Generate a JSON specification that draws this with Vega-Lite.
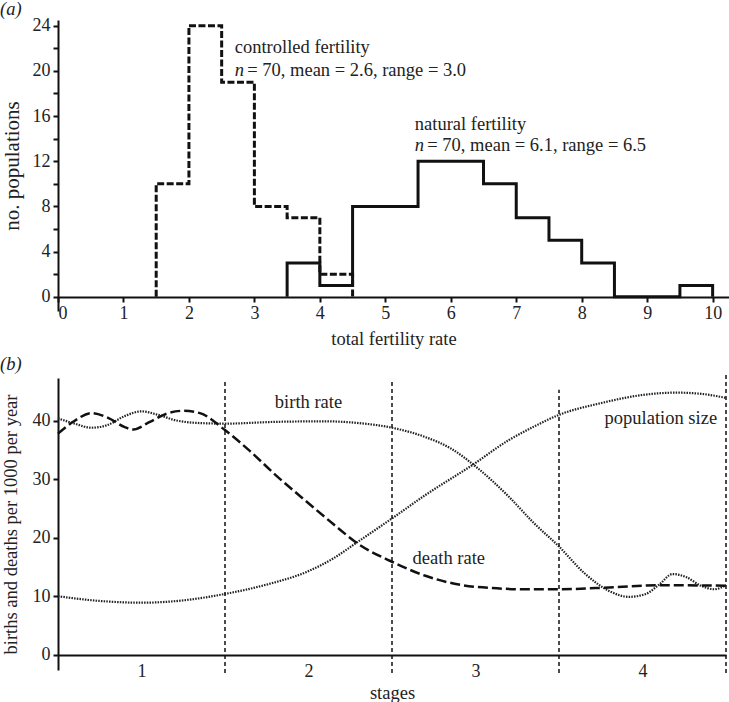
{
  "$schema": "https://vega.github.io/schema/vega-lite/v6.json",
  "background": "white",
  "padding": {"left": 0, "top": 0, "right": 0, "bottom": 0},
  "bounds": "flush",
  "spacing": 67,
  "datasets": {
    "controlled": [
      {"i": 0, "x": 1.5, "n": 0},
      {"i": 1, "x": 1.5, "n": 10},
      {"i": 2, "x": 2.0, "n": 24},
      {"i": 3, "x": 2.5, "n": 19},
      {"i": 4, "x": 3.0, "n": 8},
      {"i": 5, "x": 3.5, "n": 7},
      {"i": 6, "x": 4.0, "n": 2},
      {"i": 7, "x": 4.5, "n": 0}
    ],
    "natural": [
      {"i": 0, "x": 3.5, "n": 0},
      {"i": 1, "x": 3.5, "n": 3},
      {"i": 2, "x": 4.0, "n": 1},
      {"i": 3, "x": 4.5, "n": 8},
      {"i": 4, "x": 5.0, "n": 8},
      {"i": 5, "x": 5.5, "n": 12},
      {"i": 6, "x": 6.0, "n": 12},
      {"i": 7, "x": 6.5, "n": 10},
      {"i": 8, "x": 7.0, "n": 7},
      {"i": 9, "x": 7.5, "n": 5},
      {"i": 10, "x": 8.0, "n": 3},
      {"i": 11, "x": 8.5, "n": 0},
      {"i": 12, "x": 9.0, "n": 0},
      {"i": 13, "x": 9.5, "n": 0},
      {"i": 14, "x": 9.5, "n": 1},
      {"i": 15, "x": 10.0, "n": 0}
    ],
    "annHead": [
      {"x": 2.7, "n": 22.1, "t": "controlled fertility"},
      {"x": 5.45, "n": 15.3, "t": "natural fertility"}
    ],
    "annStats": [
      {"x": 2.7, "n": 20.05, "t": "= 70, mean = 2.6, range = 3.0"},
      {"x": 5.45, "n": 13.4, "t": "= 70, mean = 6.1, range = 6.5"}
    ],
    "stageLines": [
      {"stage": 1, "v": -3.1, "v2": 46.7},
      {"stage": 2, "v": -3.1, "v2": 46.7},
      {"stage": 3, "v": -3.1, "v2": 45.3},
      {"stage": 4, "v": -3.1, "v2": 48.2}
    ],
    "birth": [
      {"stage": 0.0, "v": 40.4}, {"stage": 0.1, "v": 39.5}, {"stage": 0.2, "v": 38.8},
      {"stage": 0.3, "v": 39.3}, {"stage": 0.4, "v": 40.8}, {"stage": 0.5, "v": 41.6},
      {"stage": 0.6, "v": 41.0}, {"stage": 0.7, "v": 40.1}, {"stage": 0.85, "v": 39.6},
      {"stage": 1.0, "v": 39.5}, {"stage": 1.3, "v": 39.8}, {"stage": 1.6, "v": 39.9},
      {"stage": 1.8, "v": 39.6}, {"stage": 2.0, "v": 38.8}, {"stage": 2.2, "v": 37.2},
      {"stage": 2.35, "v": 35.3}, {"stage": 2.5, "v": 32.2}, {"stage": 2.7, "v": 27.0},
      {"stage": 2.85, "v": 22.5}, {"stage": 3.0, "v": 18.5}, {"stage": 3.15, "v": 14.0},
      {"stage": 3.3, "v": 10.9}, {"stage": 3.42, "v": 9.9}, {"stage": 3.52, "v": 10.4},
      {"stage": 3.6, "v": 12.0}, {"stage": 3.68, "v": 13.8}, {"stage": 3.76, "v": 13.3},
      {"stage": 3.85, "v": 11.8}, {"stage": 3.93, "v": 11.2}, {"stage": 4.0, "v": 11.9}
    ],
    "death": [
      {"stage": 0.0, "v": 37.8}, {"stage": 0.1, "v": 40.0}, {"stage": 0.2, "v": 41.3},
      {"stage": 0.3, "v": 40.5}, {"stage": 0.4, "v": 38.9}, {"stage": 0.45, "v": 38.5},
      {"stage": 0.55, "v": 39.8}, {"stage": 0.65, "v": 41.2}, {"stage": 0.75, "v": 41.7},
      {"stage": 0.85, "v": 41.3}, {"stage": 1.0, "v": 38.4}, {"stage": 1.15, "v": 34.8},
      {"stage": 1.3, "v": 30.8}, {"stage": 1.5, "v": 25.9}, {"stage": 1.65, "v": 22.3},
      {"stage": 1.8, "v": 18.9}, {"stage": 2.0, "v": 15.9}, {"stage": 2.2, "v": 13.5},
      {"stage": 2.4, "v": 12.0}, {"stage": 2.6, "v": 11.4}, {"stage": 2.8, "v": 11.2},
      {"stage": 3.0, "v": 11.2}, {"stage": 3.3, "v": 11.5}, {"stage": 3.6, "v": 11.9},
      {"stage": 4.0, "v": 11.8}
    ],
    "pop": [
      {"stage": 0.0, "v": 10.0}, {"stage": 0.25, "v": 9.2}, {"stage": 0.5, "v": 8.9},
      {"stage": 0.75, "v": 9.3}, {"stage": 1.0, "v": 10.4}, {"stage": 1.25, "v": 12.0},
      {"stage": 1.5, "v": 14.3}, {"stage": 1.65, "v": 16.5}, {"stage": 1.8, "v": 19.4},
      {"stage": 2.0, "v": 23.3}, {"stage": 2.2, "v": 27.3}, {"stage": 2.48, "v": 32.4},
      {"stage": 2.7, "v": 36.7}, {"stage": 2.85, "v": 39.0}, {"stage": 3.0, "v": 41.0},
      {"stage": 3.25, "v": 43.0}, {"stage": 3.5, "v": 44.4}, {"stage": 3.7, "v": 44.8},
      {"stage": 3.85, "v": 44.6}, {"stage": 4.0, "v": 43.9}
    ],
    "curveLabels": [
      {"stage": 1.5, "v": 43.2, "t": "birth rate"},
      {"stage": 3.61, "v": 40.5, "t": "population size"},
      {"stage": 2.34, "v": 16.6, "t": "death rate"}
    ]
  },
  "vconcat": [
    {
      "width": 671,
      "height": 291,
      "title": {"text": "(a)", "anchor": "start", "frame": "group", "dx": -58, "offset": -2, "fontStyle": "italic", "fontWeight": "normal", "fontSize": 18.5, "font": "Liberation Serif, Times New Roman, DejaVu Serif, serif", "color": "#222"},
      "encoding": {
        "x": {"field": "x", "type": "quantitative", "scale": {"domain": [0, 10.25], "nice": false, "zero": false},
          "axis": {"values": [0, 1, 2, 3, 4, 5, 6, 7, 8, 9, 10], "format": "d", "offset": -14, "tickSize": 5, "labelPadding": 2, "labelFlush": true, "title": "total fertility rate", "titlePadding": 7}},
        "y": {"field": "n", "type": "quantitative", "scale": {"domain": [-1.25, 24.5], "nice": false, "zero": false},
          "axis": {"values": [0, 2, 4, 6, 8, 10, 12, 14, 16, 18, 20, 22, 24], "labelExpr": "datum.value % 4 === 0 ? datum.label : ''", "tickSize": 5, "labelPadding": 3, "title": "no. populations", "titleFontSize": 21, "titlePadding": 10}}
      },
      "layer": [
        {"data": {"name": "controlled"}, "mark": {"type": "line", "interpolate": "step-after", "color": "#111", "strokeWidth": 3, "strokeDash": [7, 2.5]},
          "encoding": {"order": {"field": "i", "type": "quantitative"}}},
        {"data": {"name": "natural"}, "mark": {"type": "line", "interpolate": "step-after", "color": "#111", "strokeWidth": 3},
          "encoding": {"order": {"field": "i", "type": "quantitative"}}},
        {"data": {"name": "annHead"}, "mark": {"type": "text", "align": "left", "baseline": "middle"},
          "encoding": {"text": {"field": "t"}}},
        {"data": {"name": "annStats"}, "mark": {"type": "text", "align": "left", "baseline": "middle", "text": "n", "fontStyle": "italic"},
          "encoding": {}},
        {"data": {"name": "annStats"}, "mark": {"type": "text", "align": "left", "baseline": "middle", "dx": 12.5},
          "encoding": {"text": {"field": "t"}}}
      ]
    },
    {
      "width": 668,
      "height": 292,
      "title": {"text": "(b)", "anchor": "start", "frame": "group", "dx": -58, "offset": -2, "fontStyle": "italic", "fontWeight": "normal", "fontSize": 18.5, "font": "Liberation Serif, Times New Roman, DejaVu Serif, serif", "color": "#222"},
      "encoding": {
        "x": {"field": "stage", "type": "quantitative", "scale": {"domain": [0, 4], "nice": false, "zero": false},
          "axis": {"values": [0.5, 1.5, 2.5, 3.5], "labelExpr": "datum.value + 0.5", "ticks": false, "offset": -15, "labelPadding": 7, "title": "stages", "titlePadding": 3}},
        "y": {"field": "v", "type": "quantitative", "scale": {"domain": [-2.6, 47.3], "nice": false, "zero": false},
          "axis": {"values": [0, 10, 20, 30, 40], "tickSize": 5, "labelPadding": 3, "title": "births and deaths per 1000 per year", "titlePadding": 12}}
      },
      "layer": [
        {"data": {"name": "stageLines"}, "mark": {"type": "rule", "color": "#111", "strokeWidth": 1.5, "strokeDash": [4, 3]},
          "encoding": {"y2": {"field": "v2"}}},
        {"data": {"name": "birth"}, "mark": {"type": "line", "interpolate": "monotone", "color": "#222", "strokeWidth": 2.2, "strokeDash": [1.5, 1.2]},
          "encoding": {}},
        {"data": {"name": "pop"}, "mark": {"type": "line", "interpolate": "monotone", "color": "#222", "strokeWidth": 2.2, "strokeDash": [1.5, 1.2]},
          "encoding": {}},
        {"data": {"name": "death"}, "mark": {"type": "line", "interpolate": "monotone", "color": "#111", "strokeWidth": 2.5, "strokeDash": [10, 4]},
          "encoding": {}},
        {"data": {"name": "curveLabels"}, "mark": {"type": "text", "align": "center", "baseline": "middle"},
          "encoding": {"text": {"field": "t"}}}
      ]
    }
  ],
  "config": {
    "view": {"stroke": null},
    "axis": {"grid": false, "domainColor": "#111", "tickColor": "#111", "labelColor": "#222", "titleColor": "#222",
      "labelFont": "Liberation Serif, Times New Roman, DejaVu Serif, serif", "titleFont": "Liberation Serif, Times New Roman, DejaVu Serif, serif", "labelFontSize": 18, "titleFontSize": 18.5,
      "titleFontWeight": "normal", "domainWidth": 2, "tickWidth": 2},
    "text": {"font": "Liberation Serif, Times New Roman, DejaVu Serif, serif", "fontSize": 18.5, "color": "#222"}
  }
}
